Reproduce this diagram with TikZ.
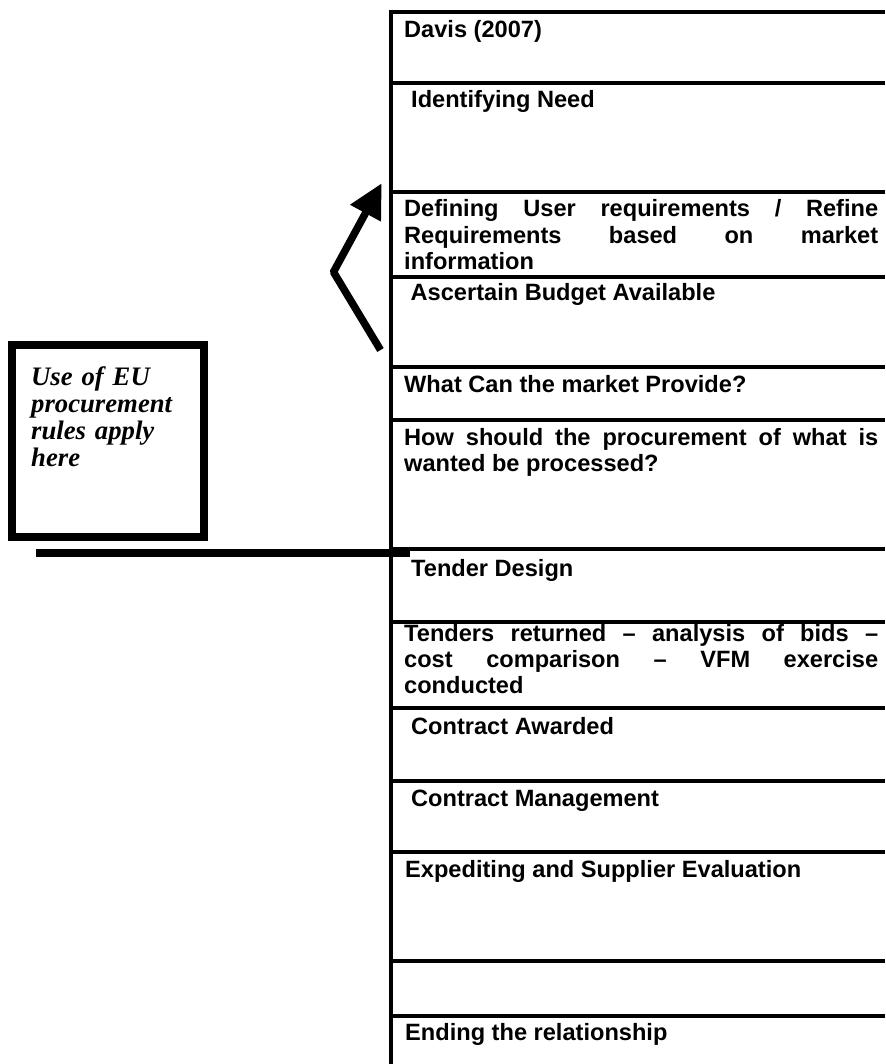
\documentclass[tikz,border=0pt]{standalone}
\usepackage{fontspec}
\setmainfont{Liberation Sans}
\newfontfamily\tnr{Liberation Serif}
\usetikzlibrary{arrows.meta}
\pretolerance=10000
\hyphenpenalty=10000
\begin{document}
\begin{tikzpicture}[x=1pt,y=-1pt,
  rule/.style={line width=4.5pt},
  cell/.style={anchor=base west, inner sep=0pt, font=\bfseries\fontsize{23.6}{26.3}\selectfont},
  para/.style={cell, text width=474pt, align=justify},
  eubox/.style={draw, line width=8pt, minimum width=192pt, minimum height=192pt, inner sep=0pt},
  eutext/.style={anchor=base west, inner sep=0pt, text width=170pt, align=left,
    font=\tnr\bfseries\itshape\fontsize{26.7}{27.3}\selectfont},
  thick rule/.style={line width=8pt},
  bent arrow/.style={line width=7.5pt, line join=round, -{Triangle[length=34pt,width=33pt]}}
  ]
\useasboundingbox (0,0) rectangle (885,1064);

% table frame
\draw[rule] (391,9.75) -- (391,1064);
\foreach \y in {12,83,192,277,367,420,549,622,708,781,852,961,1016}
  \draw[rule] (388.75,\y) -- (885,\y);

% row texts
\node[cell] (davis) at (404,38) {Davis (2007)};
\node[cell] (need) at (411,108) {Identifying Need};
\node[para] (define) at (404,217) {Defining User requirements / Refine\linebreak Requirements based on market\linebreak information};
\node[cell] (budget) at (410.5,300) {Ascertain Budget Available};
\node[cell] (market) at (404,392) {What Can the market Provide?};
\node[para] (how) at (404,445) {How should the procurement of what is\linebreak wanted be processed?};
\node[cell] (design) at (411,576) {Tender Design};
\node[para] (returned) at (404,641) {Tenders returned – analysis of bids –\linebreak cost comparison – VFM exercise\linebreak conducted};
\node[cell] (awarded) at (411,734) {Contract Awarded};
\node[cell] (manage) at (411,806) {Contract Management};
\node[cell] (expedite) at (405,877) {Expediting and Supplier Evaluation};
\node[cell] (ending) at (405,1040) {Ending the relationship};

% EU box
\node[eubox] (eu) at (108,441) {};
\node[eutext] (eulabel) at (31,385) {Use of EU\\procurement\\rules apply\\here};

% thick horizontal line
\coordinate (hl) at (36,553);
\coordinate (hr) at (410,553);
\draw[thick rule] (hl) -- (hr);

% bent arrow
\coordinate (a1) at (380.5,350);
\coordinate (a2) at (333.5,272);
\coordinate (a3) at (381.7,183.3);
\draw[bent arrow] (a1) -- (a2) -- (a3);
\end{tikzpicture}
\end{document}
